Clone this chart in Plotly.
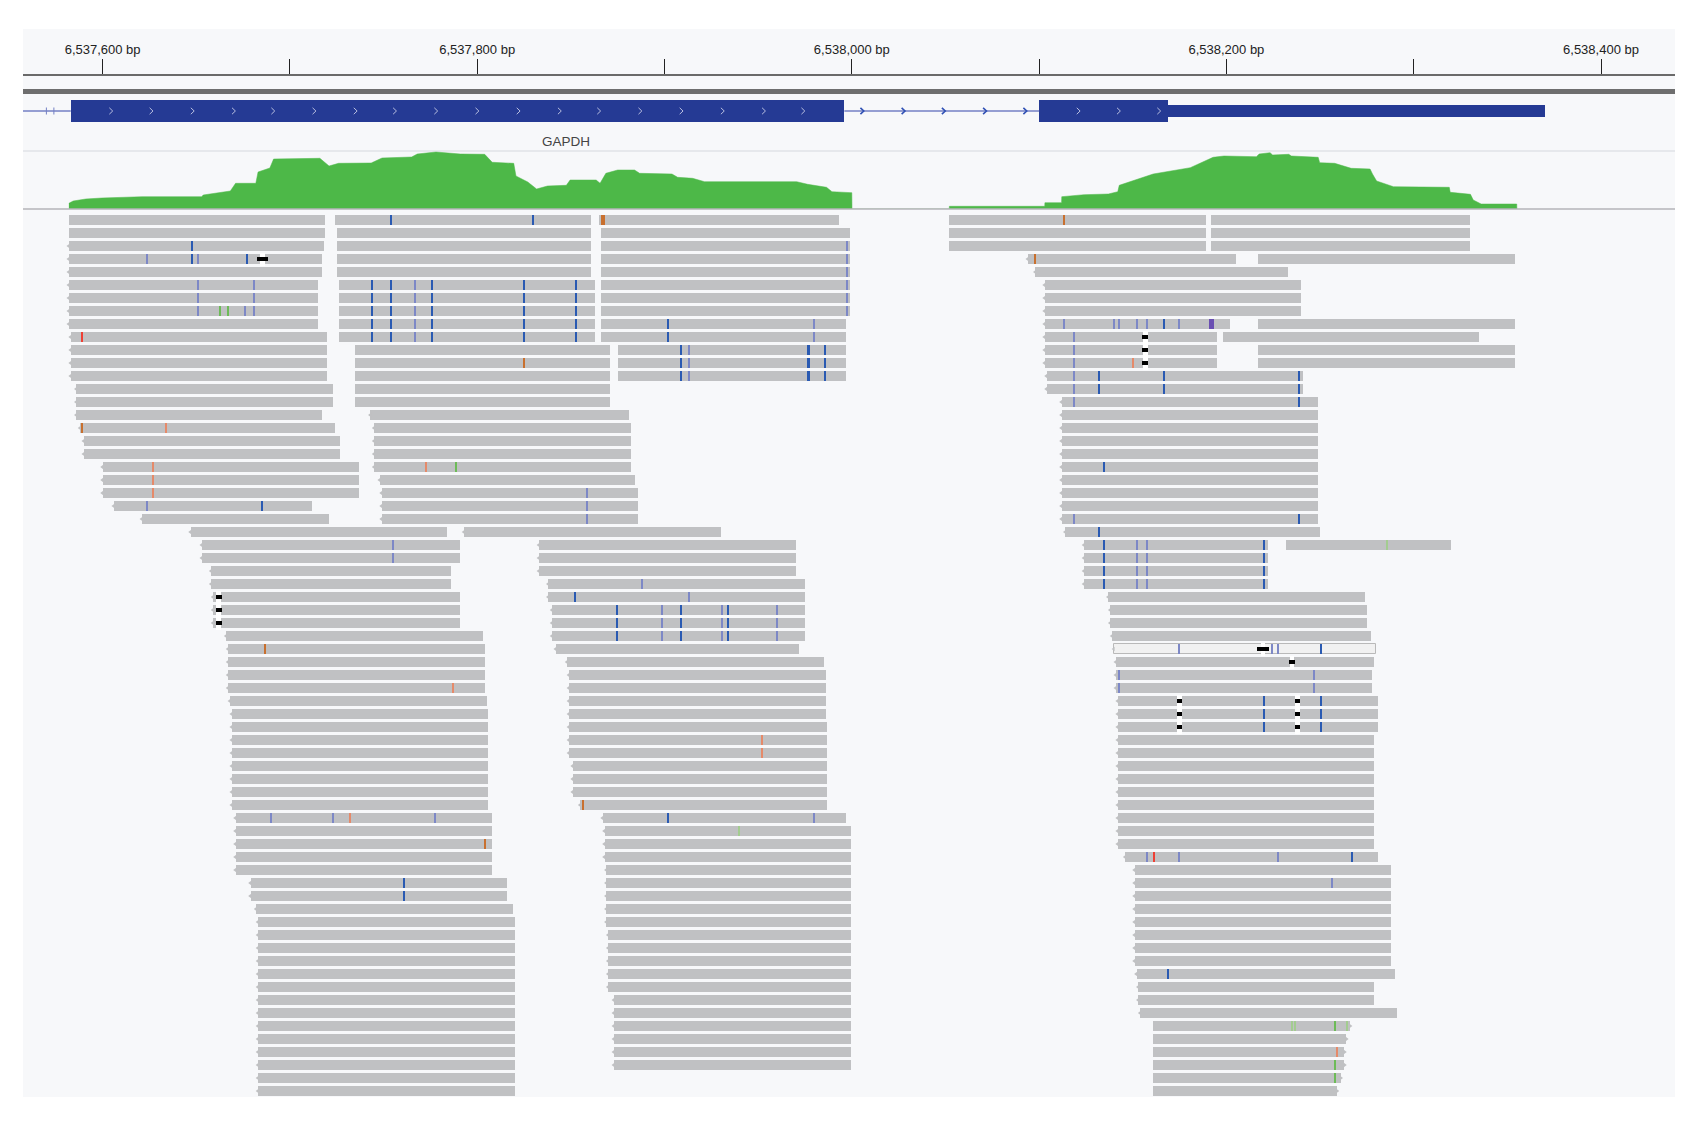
import plotly.graph_objects as go

W, H = 1700, 1133
ORIGIN = 6537600  # read positions below are bp offsets from this coordinate

TICK_BP = [6537600, 6537700, 6537800, 6537900, 6538000, 6538100, 6538200, 6538300, 6538400]
TICK_TEXT = ["6,537,600 bp", "", "6,537,800 bp", "", "6,538,000 bp", "", "6,538,200 bp", "", "6,538,400 bp"]

# Gene model
EXON_START = [-17, 500]
EXON_END = [396, 569]
UTR_START = [569]
UTR_END = [770]
INTRON_LEFT = -43
FWD_IN_EXON = [4.5, 26, 48, 70, 91, 113, 135, 156, 178, 200, 222, 244, 265, 287, 309, 331, 353, 374, 521, 542.5, 564]
FWD_IN_INTRON = [405.5, 427.5, 449, 471, 492.5]
UTR_TICKS = [-30, -26]

# Coverage track
COV_X = [-18, -15.7, -9, -0.4, 21, 52.9, 53.7, 62.4, 68.2, 71, 81.8, 83, 89.3, 91.3, 116, 120.9, 126, 143.4, 149.2,
         165, 168, 178, 191, 204, 208, 219.5, 220.7, 227, 231.7, 237.5, 247.6, 249.6, 263.5, 265.6, 268.7, 275, 284,
         286.7, 304, 307, 315, 321.4, 370.6, 376.4, 386.5, 389.4, 400, 400.1, 452, 452.1, 503, 503.1, 512, 512.1,
         524, 537, 542, 542.8, 551.3, 560.9, 580.7, 586, 592.9, 598.7, 616, 617.5, 623.3, 624.7, 633.3, 634.7, 649,
         649.8, 657.8, 666.6, 676.7, 678, 680.2, 689.2, 719, 719.5, 730.3, 731.8, 736, 755, 755.1]
COV_Y = [5.7, 8, 10, 11, 12.3, 12.3, 14, 16, 18, 25.7, 25.7, 37, 41, 50, 50.7, 43, 45.7, 46, 51,
         52, 55, 57, 55, 54.7, 46.7, 45.7, 33, 27, 20, 23, 23.7, 29, 29, 25.7, 35.7, 39, 39,
         35.7, 35, 31.7, 30.7, 27.3, 27.3, 24.7, 21.7, 17.3, 16.3, 0, 0, 2.7, 2.7, 6.3, 6.3, 12.3,
         14.3, 15, 17.3, 23.7, 29, 35, 41.3, 45.7, 51.7, 53, 52.3, 55, 56.3, 54, 54.7, 53, 51.7,
         46.3, 45.7, 40.7, 40, 35, 28, 22.3, 21.7, 16.7, 14.7, 9, 5, 5, 0]
COV_ALLELE_X = [518.5]
COV_ALLELE_BLUE = [5]
COV_ALLELE_ORANGE = [7.3]

# Reads: block A/B/C/D per pile-up row (None = no read in that row)
A_START = [-18,-18,-18,-18,-18,-18,-18,-18,-18,-17,-17,-17,-17,-14,-14,-14,-12,-10,-10,0,0,0,6,21,47,53,53,58,58,59,59,59,66,
           67,67,67,67,68,69,69,69,69,69,69,69,69,71,71,71,71,71,79,79,82,83,83,83,83,83,83,83,83,83,83,83,83,83,83]
A_END = [119,119,118,117,117,115,115,115,115,120,120,120,120,123,123,117,124,127,127,137,137,137,112,121,184,191,191,186,186,191,191,191,203,
         204,204,204,204,205,206,206,206,206,206,206,206,206,208,208,208,208,208,216,216,219,220,220,220,220,220,220,220,220,220,220,220,220,220,220]
B_START = [124,125,125,125,125,126,126,126,126,126,135,135,135,135,135,143,145,145,145,145,148,149,149,149,193,233,233,233,238,238,
           240,240,240,242,248,249,249,249,249,249,249,249,251,251,251,255,267,268,268,268,269,269,269,269,269,270,270,270,270,270,273,273,273,273,273,273,None,None]
B_END = [261,261,261,261,261,263,263,263,263,263,271,271,271,271,271,281,282,282,282,282,284,286,286,286,330,370,370,370,375,375,
         375,375,375,372,385,386,386,386,386,387,387,387,387,387,387,387,397,399.5,399.5,399.5,399.5,399.5,399.5,399.5,399.5,399.5,399.5,399.5,399.5,399.5,399.5,399.5,399.5,399.5,399.5,399.5,None,None]
C_ROW = [0,1,2,3,4,5,6,7,8,9,10,11,12]
C_START = [265,266,266,266,266,266,266,266,266,266,275,275,275]
C_END = [393,399,399,399,399,399,399,399,397,397,397,397,397]
D_START = [452,452,452,494,498,503,503,503,503,503,503,503,504,504,512,512,512,512,512,512,512,512,512,512,514,524,524,524,524,537,538,538,539,
           540,541,541,541,542,542,542,542,542,542,542,542,542,542,542,542,546,551,551,551,551,551,551,551,551,552,553,553,554,561,561,561,561,561,561]
D_END = [589,589,589,605,633,640,640,640,602,595,595,595,641,641,649,649,649,649,649,649,649,649,649,649,650,622,622,622,622,674,675,675,677,
         680,679,678,678,681,681,681,679,679,679,679,679,679,679,679,679,681,688,688,688,688,688,688,688,688,690,679,679,691,666,664,663,663,661,659]
E_ROW = [0,1,2,3,8,9,10,11,25]
E_START = [592,592,592,617,617,598,617,617,632]
E_END = [730,730,730,754,754,735,754,754,720]
SELECTED_ROW = 33  # the highlighted read in block D

# Mismatched bases as (row, bp offset)
BLUE = [(0,154),(0,230),(2,48),(3,48),(3,77),(22,85),(8,302),(9,302),(51,161),(52,161),(29,252.5),(46,302),
        (5,144),(5,154),(5,176),(5,225),(5,253),(6,144),(6,154),(6,176),(6,225),(6,253),
        (7,144),(7,154),(7,176),(7,225),(7,253),(8,144),(8,154),(8,176),(8,225),(8,253),
        (9,144),(9,154),(9,176),(9,225),(9,253),
        (10,309),(10,377),(10,386),(11,309),(11,377),(11,386),(12,309),(12,377),(12,386),
        (30,275),(30,309),(30,334),(31,275),(31,309),(31,334),(32,275),(32,309),(32,334),
        (8,566.6),(12,532),(12,566.6),(12,639),(13,532),(13,566.6),(13,639),(14,639),(23,639),(19,535),(24,532),
        (25,535),(25,620.4),(26,535),(26,620.4),(27,535),(27,620.4),(28,535),(28,620.4),(33,650.5),
        (37,620.4),(37,650.5),(38,620.4),(38,650.5),(39,620.4),(39,650.5),(49,667.3),(58,569)]
BLUE_LIGHT = [(3,24),(3,51),(5,51),(5,81),(6,51),(6,81),(7,51),(7,76),(7,81),(22,24),(25,155),(26,155),(28,288),(29,313),
              (21,258.6),(22,258.6),(23,258.6),(46,90),(46,123),(46,177.6),(8,380),(9,380),(46,380),
              (10,313),(11,313),(12,313),(30,299),(30,331),(30,360),(31,299),(31,331),(31,360),(32,299),(32,331),(32,360),
              (5,167),(6,167),(7,167),(8,167),(9,167),(2,397.5),(3,397.5),(4,397.5),(5,397.5),(6,397.5),(7,397.5),
              (8,513.3),(8,540),(8,543),(8,552.4),(8,557.6),(8,575),(9,518.5),(10,518.5),(11,518.5),(12,518.5),(13,518.5),(14,518.5),(23,518.5),
              (25,552.4),(25,557.6),(26,552.4),(26,557.6),(27,552.4),(27,557.6),(28,552.4),(28,557.6),
              (33,575),(33,624.6),(33,627.5),(35,543),(35,646.7),(36,543),(36,646.7),(49,557.6),(49,575),(49,627.4),(51,656.7)]
ORANGE = [(0,268),(0,267),(11,225),(16,-11),(33,87),(45,256.6),(48,204.5),(0,513.3),(3,498)]
ORANGE_LIGHT = [(16,34),(19,27),(20,27),(21,27),(19,172.7),(36,187),(40,352),(41,352),(46,132.4),(11,550.4),(64,659.2)]
RED = [(9,-11),(49,561.6)]
GREEN = [(7,63),(7,67),(19,189),(62,658.3),(65,658.3),(66,658.3)]
GREEN_LIGHT = [(47,340),(25,686),(62,635),(62,636.5),(62,664.4)]
PURPLE = [(8,592)]

# Insertions as (row, bp offset, span in bp)
INSERTS = [(3,85.5,6),(29,62,3),(30,62,3),(31,62,3),(9,556.7,3),(10,556.7,3),(11,556.7,3),(33,619.6,6),(34,635,3),
           (37,575,3),(38,575,3),(39,575,3),(37,638,3),(38,638,3),(39,638,3)]

fig = go.Figure()
GRAY = "#c0c1c3"


def bp(v):
    return ORIGIN + v


def read_trace(rows, starts, ends, color=GRAY, line=None):
    rr, bb, ll = [], [], []
    for r, s, e in zip(rows, starts, ends):
        if s is None:
            continue
        rr.append(r)
        bb.append(bp(s))
        ll.append(e - s)
    fig.add_trace(go.Bar(y=rr, base=bb, x=ll, orientation="h", width=0.8, yaxis="y",
                         marker=dict(color=color, line=dict(width=1 if line else 0, color=line or color)),
                         hoverinfo="skip", showlegend=False))


def mm_trace(points, color, span=0.85):
    fig.add_trace(go.Bar(y=[p[0] for p in points], base=[bp(p[1]) - span / 2 for p in points],
                         x=[span] * len(points), orientation="h", width=0.82, yaxis="y",
                         marker=dict(color=color, line=dict(width=0)), hoverinfo="skip", showlegend=False))


ROWS = list(range(68))
read_trace(ROWS, A_START, A_END)
read_trace(ROWS, B_START, B_END)
read_trace(C_ROW, C_START, C_END)
read_trace([r for r in ROWS if r != SELECTED_ROW],
           [s for r, s in zip(ROWS, D_START) if r != SELECTED_ROW],
           [e for r, e in zip(ROWS, D_END) if r != SELECTED_ROW])
read_trace(E_ROW, E_START, E_END)
read_trace([SELECTED_ROW], [D_START[SELECTED_ROW]], [D_END[SELECTED_ROW]], color="#f1f1f1", line="#b9b9b9")

# strand tips of the reads
tip_x = [bp(s) for r, s in zip(ROWS, A_START) if r >= 2] + \
        [bp(s) for r, s in zip(ROWS, B_START) if s is not None and r >= 15] + \
        [bp(s) for r, s in zip(ROWS, D_START) if 3 <= r < 62]
tip_y = [r for r in ROWS if r >= 2] + \
        [r for r, s in zip(ROWS, B_START) if s is not None and r >= 15] + \
        [r for r in ROWS if 3 <= r < 62]
fig.add_trace(go.Scatter(x=[v - 0.2 for v in tip_x], y=tip_y, mode="markers", yaxis="y", hoverinfo="skip",
                         marker=dict(symbol="triangle-left", size=4, color=GRAY, line=dict(width=0)), showlegend=False))
fig.add_trace(go.Scatter(x=[bp(e) + 0.2 for r, e in zip(ROWS, D_END) if r >= 62], y=[r for r in ROWS if r >= 62],
                         mode="markers", yaxis="y", hoverinfo="skip",
                         marker=dict(symbol="triangle-right", size=4, color=GRAY, line=dict(width=0)), showlegend=False))

mm_trace(BLUE_LIGHT, "#7d88c6", span=0.75)
mm_trace(BLUE, "#2a5ab2")
mm_trace(ORANGE_LIGHT, "#e58a6a", span=0.75)
mm_trace(ORANGE, "#c8702f")
mm_trace(RED, "#ee4035")
mm_trace(GREEN_LIGHT, "#a3cc90", span=0.75)
mm_trace(GREEN, "#6dbb58", span=0.75)
mm_trace(PURPLE, "#6a4fb2", span=3.0)

# insertion markers: white halo + black core
fig.add_trace(go.Bar(y=[p[0] for p in INSERTS], base=[bp(p[1]) - 1.2 for p in INSERTS], x=[2.4] * len(INSERTS),
                     orientation="h", width=1.0, yaxis="y", marker=dict(color="#ffffff", line=dict(width=0)),
                     hoverinfo="skip", showlegend=False))
fig.add_trace(go.Bar(y=[p[0] for p in INSERTS], base=[bp(p[1]) - p[2] / 2 for p in INSERTS], x=[p[2] for p in INSERTS],
                     orientation="h", width=0.3, yaxis="y", marker=dict(color="#000000", line=dict(width=0)),
                     hoverinfo="skip", showlegend=False))

# coverage
fig.add_trace(go.Scatter(x=[bp(v) for v in COV_X], y=COV_Y, mode="lines", fill="tozeroy", fillcolor="#4db848",
                         line=dict(width=0.5, color="#4db848"), yaxis="y2", hoverinfo="skip", showlegend=False))
fig.add_trace(go.Bar(x=[bp(v) for v in COV_ALLELE_X], y=COV_ALLELE_ORANGE, width=1.0, yaxis="y2",
                     marker=dict(color="#d07a30", line=dict(width=0)), hoverinfo="skip", showlegend=False))
fig.add_trace(go.Bar(x=[bp(v) for v in COV_ALLELE_X], y=COV_ALLELE_BLUE, width=1.0, yaxis="y2",
                     marker=dict(color="#2e8f9a", line=dict(width=0)), hoverinfo="skip", showlegend=False))

# gene track
CENTER = 35
fig.add_trace(go.Scatter(x=[bp(INTRON_LEFT), bp(EXON_START[0])], y=[CENTER, CENTER], mode="lines", yaxis="y3",
                         line=dict(color="#7480c4", width=1.3), hoverinfo="skip", showlegend=False))
fig.add_trace(go.Scatter(x=[bp(EXON_END[0]), bp(EXON_START[1])], y=[CENTER, CENTER], mode="lines", yaxis="y3",
                         line=dict(color="#7480c4", width=1.3), hoverinfo="skip", showlegend=False))
fig.add_trace(go.Bar(y=[CENTER, CENTER], base=[bp(v) for v in EXON_START], x=[e - s for s, e in zip(EXON_START, EXON_END)],
                     orientation="h", width=21.7, yaxis="y3", marker=dict(color="#253a94", line=dict(width=0)),
                     hoverinfo="skip", showlegend=False))
fig.add_trace(go.Bar(y=[CENTER], base=[bp(v) for v in UTR_START], x=[e - s for s, e in zip(UTR_START, UTR_END)],
                     orientation="h", width=12, yaxis="y3", marker=dict(color="#253a94", line=dict(width=0)),
                     hoverinfo="skip", showlegend=False))


def chevrons(centers, color, width, half_w=0.9, half_h=3.2):
    xs, ys = [], []
    for c in centers:
        xs += [bp(c - half_w), bp(c + half_w), bp(c - half_w), None]
        ys += [CENTER - half_h, CENTER, CENTER + half_h, None]
    fig.add_trace(go.Scatter(x=xs, y=ys, mode="lines", yaxis="y3", line=dict(color=color, width=width),
                             hoverinfo="skip", showlegend=False))


chevrons(FWD_IN_EXON, "#b8bee0", 1)
chevrons(FWD_IN_INTRON, "#2f50b4", 1.6)
chevrons(UTR_TICKS, "#7480c4", 1, half_w=0.01, half_h=3.5)

x0_bp = bp((23 - 102.6) / 1.873)
x1_bp = bp((1675 - 102.6) / 1.873)


def dom(top, bottom):
    return [1 - bottom / H, 1 - top / H]


fig.update_layout(
    width=W, height=H, autosize=False, margin=dict(l=0, r=0, t=0, b=0), paper_bgcolor="#ffffff",
    plot_bgcolor="rgba(0,0,0,0)", barmode="overlay", showlegend=False, bargap=0,
    font=dict(family="Liberation Sans, Arial, sans-serif"),
    xaxis=dict(domain=[23 / W, 1675 / W], range=[x0_bp, x1_bp], anchor="y3", side="top", tickmode="array",
               tickvals=TICK_BP, ticktext=TICK_TEXT, ticks="outside", ticklen=15, tickwidth=1.2, tickcolor="#222222",
               tickfont=dict(size=13, color="#222222"), showgrid=False, zeroline=False, showline=True,
               linecolor="#6a6a6a", linewidth=2),
    yaxis=dict(domain=dom(209, 1097), range=[67.46, -0.846], anchor="x", visible=False),
    yaxis2=dict(domain=dom(151, 209), range=[0, 58], anchor="x", visible=False),
    yaxis3=dict(domain=dom(76, 151), range=[75, 0], anchor="x", visible=False),
    shapes=[
        dict(type="rect", xref="paper", yref="paper", x0=23 / W, x1=1675 / W, y0=1 - 1097 / H, y1=1 - 29 / H,
             fillcolor="#f7f8fa", line=dict(width=0), layer="below"),
        dict(type="rect", xref="paper", yref="y3", x0=23 / W, x1=1675 / W, y0=13, y1=18,
             fillcolor="#6e6e6e", line=dict(width=0), layer="below"),
        dict(type="line", xref="paper", yref="paper", x0=23 / W, x1=1675 / W, y0=1 - 151 / H, y1=1 - 151 / H,
             line=dict(color="#d6d8de", width=1.2), layer="below"),
        dict(type="line", xref="paper", yref="paper", x0=23 / W, x1=1675 / W, y0=1 - 209 / H, y1=1 - 209 / H,
             line=dict(color="#b4b5b8", width=1.4), layer="above"),
    ],
    annotations=[dict(text="GAPDH", x=bp(247.6), y=66, xref="x", yref="y3", showarrow=False,
                      font=dict(size=13.5, color="#444444"))],
)

fig.write_html("out.html", config=dict(displayModeBar=False),
               post_script="document.body.style.margin='0';document.body.style.background='#ffffff';window.dispatchEvent(new Event('resize'));")
